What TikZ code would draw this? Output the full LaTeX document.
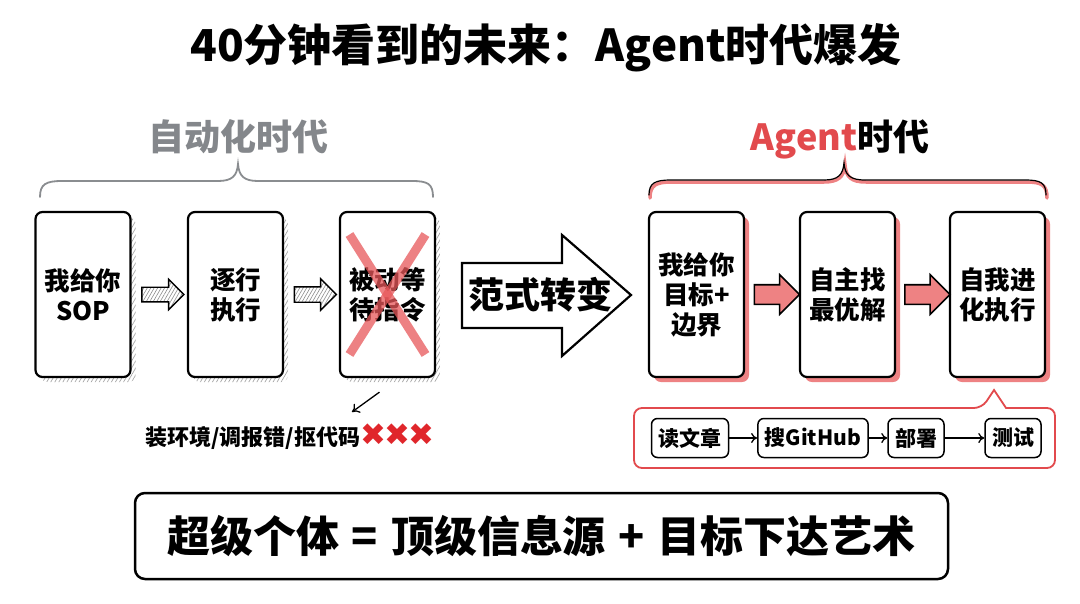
\documentclass[tikz,border=0pt]{standalone}
\usepackage{fontspec}
\setmainfont{Noto Sans CJK SC}
\newfontfamily\dejavu{DejaVu Sans}
\usetikzlibrary{shapes.arrows,patterns.meta,calc,arrows.meta}
\definecolor{agred}{HTML}{E24A4D}
\definecolor{pinkred}{HTML}{EE8283}
\definecolor{txtgray}{HTML}{84878B}
\definecolor{bracegray}{HTML}{8A8D90}
\definecolor{xred}{HTML}{E8585A}
\definecolor{markred}{HTML}{E0262B}
\tikzset{
  box/.style={draw=black, line width=2.2pt, rounded corners=7pt, fill=white,
    minimum width=95pt, minimum height=165pt, align=center,
    font=\fontsize{25.5}{30}\selectfont\bfseries},
  hatchbox/.style={box, preaction={draw=none, pattern={Lines[angle=60,distance=3.5pt,line width=0.7pt]}, pattern color=black!35, transform canvas={shift={(5pt,-5pt)}}}},
  redbox/.style={box, preaction={draw=none, fill=pinkred, transform canvas={shift={(5pt,-5pt)}}}},
  grayarrow/.style={single arrow, draw=black, line width=1.4pt, minimum height=42pt,
    inner xsep=0pt, inner ysep=7pt, single arrow head extend=8pt,
    pattern={Lines[angle=60,distance=3pt,line width=0.6pt]}, pattern color=black!45},
  redarrow/.style={single arrow, draw=black, line width=1.6pt, minimum height=45pt,
    inner xsep=0pt, inner ysep=9pt, single arrow head extend=10pt, fill=pinkred},
  stepbox/.style={draw=black, line width=1.5pt, rounded corners=6pt, minimum height=39pt,
    inner xsep=7pt, font=\fontsize{21}{24}\selectfont\bfseries},
  flow/.style={-{To[length=6pt,width=10pt]}, line width=1.3pt}
}
\begin{document}
\begin{tikzpicture}[x=1pt,y=-1pt]
\useasboundingbox (0,0) rectangle (1080,603);
\fill[white] (0,0) rectangle (1080,603);

% title
\node[font=\fontsize{44}{50}\selectfont\bfseries] (title) at (546,48) {40分钟看到的未来：Agent时代爆发};

% left group
\node[font=\fontsize{36}{42}\selectfont\bfseries, text=txtgray] (autoLbl) at (238,137) {自动化时代};
\draw[bracegray, line width=1.8pt, line cap=round]
  (40,197) .. controls (40,184) and (46,181) .. (62,181) -- (218,181)
  .. controls (232,181) and (237,176) .. (238,164)
  .. controls (239,176) and (244,181) .. (258,181) -- (412,181)
  .. controls (428,181) and (433,184) .. (433,197);

\node[hatchbox] (b1) at (83,294.5) {我给你\\SOP};
\node[hatchbox] (b2) at (235.5,294.5) {逐行\\执行};
\node[hatchbox] (b3) at (387.5,294.5) {被动等\\待指令};
\draw[xred, opacity=0.75, line width=9pt] ($(b3.center)+(-38,-60)$) -- ($(b3.center)+(38,60)$);
\draw[xred, opacity=0.75, line width=9pt] ($(b3.center)+(38,-60)$) -- ($(b3.center)+(-38,60)$);

\node[grayarrow] (a1) at ($(b1.east)!0.5!(b2.west)$) {};
\node[grayarrow] (a2) at ($(b2.east)!0.5!(b3.west)$) {};

\node[anchor=west, font=\fontsize{22}{25}\selectfont\bfseries, inner sep=0pt] (mess) at (145,437)
  {装环境/调报错/抠代码{\dejavu\color{markred}\fontsize{31}{32}\selectfont ✖\kern-2pt✖\kern-2pt✖}};
\coordinate (messTop) at (352,412);
\draw[-{To[length=7pt,width=11pt]}, line width=1.3pt] ($(b3.south)+(-8,14)$) -- (messTop);

% paradigm arrow
\draw[black, line width=2.2pt, fill=white, line join=miter]
  (462,263) -- (562,263) -- (562,235) -- (631,295) -- (562,356) -- (562,328) -- (462,328) -- cycle;
\node[font=\fontsize{36}{40}\selectfont\bfseries, inner sep=0pt] (shift) at (540,295) {范式转变};

% right group
\node[font=\fontsize{36}{42}\selectfont\bfseries] (agentLbl) at (840,139) {\textcolor{agred}{Agent}时代};
\draw[pinkred, line width=3.5pt, line cap=round]
  (650,198) .. controls (650,185) and (656,182) .. (672,182) -- (824,182)
  .. controls (838,182) and (844,177) .. (845,165)
  .. controls (846,177) and (851,182) .. (866,182) -- (1026,182)
  .. controls (1042,182) and (1047,185) .. (1047,198);
\draw[black, line width=1.2pt, line cap=round]
  (649,195) .. controls (649,183) and (655,180) .. (671,180) -- (824,180)
  .. controls (838,180) and (843,175) .. (844,163)
  .. controls (845,175) and (850,180) .. (865,180) -- (1025,180)
  .. controls (1041,180) and (1046,183) .. (1046,195);

\node[redbox] (b4) at (696.5,294.5) {我给你\\目标+\\边界};
\node[redbox] (b5) at (847.5,294.5) {自主找\\最优解};
\node[redbox] (b6) at (997.5,294.5) {自我进\\化执行};
\node[redarrow] (a3) at ($(b4.east)!0.5!(b5.west)$) {};
\node[redarrow] (a4) at ($(b5.east)!0.5!(b6.west)$) {};

% callout
\draw[agred, line width=1.8pt, rounded corners=8pt]
  (634,408) -- (982,408) [sharp corners] -- (994,390) -- (1006,408) [rounded corners=8pt] -- (1055,408) -- (1055,468) -- (634,468) -- cycle;
\node[stepbox] (s1) at (690,438) {读文章};
\node[stepbox] (s2) at (813,438) {搜GitHub};
\node[stepbox] (s3) at (916,438) {部署};
\node[stepbox] (s4) at (1013,438) {测试};
\draw[flow] (s1) -- (s2);
\draw[flow] (s2) -- (s3);
\draw[flow] (s3) -- (s4);

% bottom
\node[draw=black, line width=2.5pt, rounded corners=10pt, minimum width=813pt, minimum height=86pt,
  font=\fontsize{43}{48}\selectfont\bfseries] (motto) at (541.5,536) {超级个体\hspace{0.3em}=\hspace{0.3em}顶级信息源\hspace{0.3em}+\hspace{0.3em}目标下达艺术};
\end{tikzpicture}
\end{document}
